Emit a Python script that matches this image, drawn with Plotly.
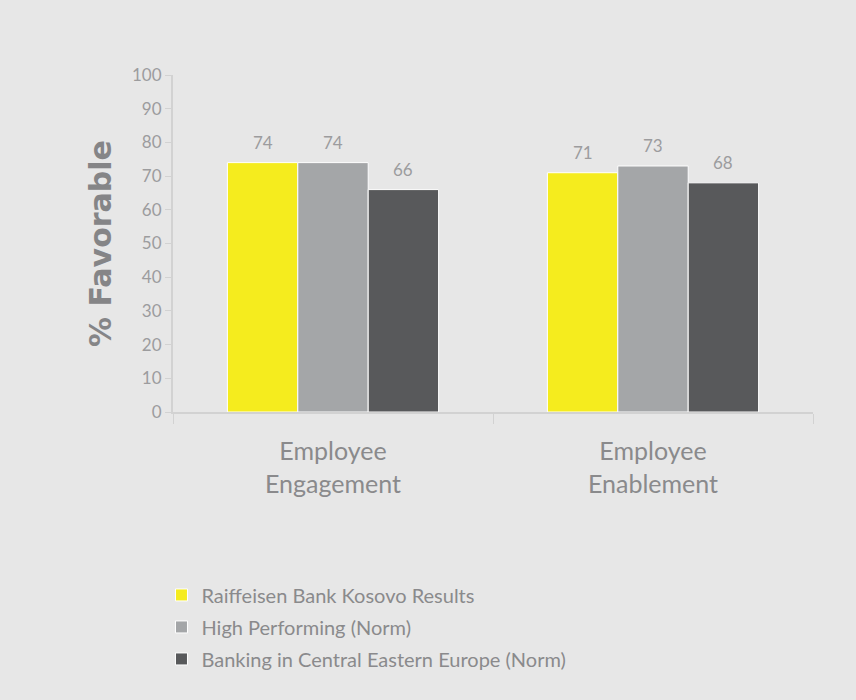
import plotly.graph_objects as go

categories = ["Employee<br>Engagement", "Employee<br>Enablement"]
series_names = [
    "Raiffeisen Bank Kosovo Results",
    "High Performing (Norm)",
    "Banking in Central Eastern Europe (Norm)",
]
series_values = [
    [74, 71],
    [74, 73],
    [66, 68],
]
series_colors = ["#f5ec1e", "#a4a6a8", "#58595b"]
y_ticks = [0, 10, 20, 30, 40, 50, 60, 70, 80, 90, 100]

BG = "#e7e7e7"
TEXT = "#8a8a8c"
LIGHT = "#9c9c9e"
AXIS = "#d2d2d2"
FONT = "Lato, 'Open Sans', sans-serif"
BARGAP = 0.34

fig = go.Figure()
for k, (name, vals, col) in enumerate(zip(series_names, series_values, series_colors)):
    fig.add_trace(go.Bar(
        name=name,
        x=categories,
        y=vals,
        legendgroup=f"g{k}",
        marker=dict(color=col, line=dict(color="#ffffff", width=1)),
        hoverinfo="skip",
    ))

# value labels above each bar, placed at the grouped bar centres
n = len(series_names)
bar_w = (1 - BARGAP) / n
for i, vals in enumerate(series_values):
    offset = (i - (n - 1) / 2) * bar_w
    for j, v in enumerate(vals):
        fig.add_annotation(
            x=j + offset, y=v, xref="x", yref="y",
            text=str(v), showarrow=False,
            yanchor="bottom", yshift=8,
            font=dict(family=FONT, size=17, color=LIGHT),
        )

fig.update_layout(
    width=856, height=700,
    margin=dict(l=173, r=43, t=75, b=288),
    paper_bgcolor=BG, plot_bgcolor=BG,
    barmode="group", bargap=BARGAP, bargroupgap=0,
    font=dict(family=FONT, color=TEXT),
    showlegend=True,
    legend=dict(
        x=-0.018, y=-0.485, xanchor="left", yanchor="top",
        font=dict(family=FONT, size=20, color=TEXT),
        bgcolor="rgba(0,0,0,0)", tracegroupgap=3,
        itemwidth=30,
    ),
    xaxis=dict(
        showline=True, linecolor=AXIS, linewidth=2,
        ticks="outside", tickson="boundaries", ticklen=10,
        tickcolor=AXIS, tickwidth=1,
        tickfont=dict(family=FONT, size=25, color=TEXT),
        ticklabelstandoff=16,
        showgrid=False,
    ),
    yaxis=dict(
        range=[0, 100], tickvals=y_ticks,
        showline=True, linecolor=AXIS, linewidth=2,
        ticks="outside", ticklen=6, tickcolor=AXIS,
        tickfont=dict(family=FONT, size=17, color=LIGHT),
        showgrid=False, zeroline=False,
        title=dict(text="<b>% Favorable</b>", standoff=12,
                   font=dict(family="'DejaVu Sans', sans-serif", size=30, color="#858587")),
    ),
)

fig.write_html("out.html")
